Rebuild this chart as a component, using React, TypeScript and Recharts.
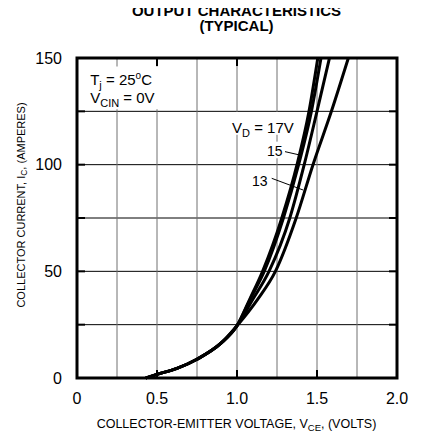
import React from 'react';
import {
  LineChart,
  Line,
  XAxis,
  YAxis,
  CartesianGrid,
  ReferenceArea,
  ReferenceLine,
} from 'recharts';

// ---- axis ticks ----
const xTicks = [0, 0.25, 0.5, 0.75, 1, 1.25, 1.5, 1.75, 2];
const yTicks = [0, 25, 50, 75, 100, 125, 150];
const xMajorTicks = [0.5, 1, 1.5];
const yMajorTicks = [25, 50, 75, 100, 125];

// ---- common low-current part of all curves (VCE volts, IC amperes) ----
const lowVce = [0.43, 0.5, 0.625, 0.75, 0.9, 1.0];
const lowIc = [0, 1.7, 4.5, 8.8, 16.3, 24.5];

// ---- upper part: VCE read at given collector currents ----
const highIc = [37, 50, 75, 100, 125, 150];
const vceVd17 = [1.08, 1.16, 1.28, 1.375, 1.45, 1.505];
const vceVd17b = [1.083, 1.17, 1.29, 1.385, 1.465, 1.525];
const vceVd15 = [1.1, 1.2, 1.33, 1.42, 1.5, 1.578];
const vceVd13 = [1.13, 1.24, 1.37, 1.475, 1.59, 1.696];

const buildCurve = (upper: number[]) =>
  lowVce
    .map((v, k) => ({ v, i: lowIc[k] }))
    .concat(highIc.map((i, k) => ({ v: upper[k], i })));

const curves = [vceVd17, vceVd17b, vceVd15, vceVd13].map(buildCurve);

const FONT = '"Liberation Sans", Arial, Helvetica, sans-serif';

const fmtX = (v: number) => {
  if (Math.abs((v * 2) % 1) > 1e-9) return '';
  return v === 0 ? '0' : v.toFixed(1);
};
const fmtY = (v: number) => (v % 50 === 0 ? String(v) : '');

const TjLabel = (props: any) => {
  const vb = props.viewBox || {};
  const x = vb.x + 10;
  return (
    <g fontFamily={FONT} fill="#000">
      <text x={x} y={vb.y + 18.5} fontSize={15}>
        T<tspan fontSize={11} dy={4}>j</tspan>
        <tspan dy={-4}> = 25</tspan>
        <tspan fontSize={10} dy={-6}>o</tspan>
        <tspan dy={6}>C</tspan>
      </text>
      <text x={x} y={vb.y + 36} fontSize={15}>
        V<tspan fontSize={11} dy={4}>CIN</tspan>
        <tspan dy={-4}> = 0V</tspan>
      </text>
    </g>
  );
};

const VdLabel = (props: any) => {
  const vb = props.viewBox || {};
  return (
    <text x={vb.x + 3} y={vb.y + 21} fontSize={15} fontFamily={FONT} fill="#000">
      V<tspan fontSize={11} dy={4}>D</tspan>
      <tspan dy={-4}> = 17V</tspan>
    </text>
  );
};

const makeNumLabel = (txt: string) => (props: any) => {
  const vb = props.viewBox || {};
  return (
    <text x={vb.x + 2} y={vb.y + vb.height - 2} fontSize={14} fontFamily={FONT} fill="#000">
      {txt}
    </text>
  );
};

export default function App() {
  return (
    <div style={{ position: 'relative', width: 410, height: 426 }}>
      <LineChart
        width={410}
        height={426}
        margin={{ top: 50, right: 21, bottom: 26, left: 9 }}
      >
        <CartesianGrid vertical={false} stroke="#000" strokeWidth={1} />
        <CartesianGrid horizontal={false} stroke="#707070" strokeWidth={1} />
        <XAxis
          dataKey="v"
          type="number"
          domain={[0, 2]}
          ticks={xTicks}
          tickFormatter={fmtX}
          axisLine={false}
          tickLine={false}
          tickSize={0}
          tickMargin={15}
          height={30}
          interval={0}
          tick={{ fill: '#000', fontSize: 16, fontFamily: FONT }}
        />
        <YAxis
          type="number"
          domain={[0, 150]}
          ticks={yTicks}
          tickFormatter={fmtY}
          axisLine={false}
          tickLine={false}
          tickSize={0}
          tickMargin={15}
          width={60}
          interval={0}
          tick={{ fill: '#000', fontSize: 16, fontFamily: FONT }}
        />
        {/* white boxes behind annotations */}
        <ReferenceArea
          x1={0.02}
          x2={0.68}
          y1={126}
          y2={146}
          fill="#fff"
          fillOpacity={1}
          stroke="none"
          label={TjLabel}
        />
        <ReferenceArea
          x1={0.95}
          x2={1.375}
          y1={114}
          y2={124.7}
          fill="#fff"
          fillOpacity={1}
          stroke="none"
          label={VdLabel}
        />
        <ReferenceArea
          x1={1.175}
          x2={1.294}
          y1={103}
          y2={110.8}
          fill="#fff"
          fillOpacity={1}
          stroke="none"
          label={makeNumLabel('15')}
        />
        <ReferenceArea
          x1={1.081}
          x2={1.206}
          y1={89.1}
          y2={96.6}
          fill="#fff"
          fillOpacity={1}
          stroke="none"
          label={makeNumLabel('13')}
        />
        {curves.map((d, k) => (
          <Line
            key={k}
            data={d}
            dataKey="i"
            type="monotone"
            stroke="#000"
            strokeWidth={3}
            dot={false}
            activeDot={false}
            isAnimationActive={false}
          />
        ))}
        {/* leader lines */}
        <ReferenceLine
          segment={[
            { x: 1.3, y: 106.1 },
            { x: 1.394, y: 104.5 },
          ]}
          stroke="#000"
          strokeWidth={1}
        />
        <ReferenceLine
          segment={[
            { x: 1.217, y: 93.6 },
            { x: 1.414, y: 88.1 },
          ]}
          stroke="#000"
          strokeWidth={1}
        />
        {/* inward ticks */}
        {xMajorTicks.map((v) => (
          <ReferenceLine
            key={'xb' + v}
            segment={[
              { x: v, y: 0 },
              { x: v, y: 3.8 },
            ]}
            stroke="#000"
            strokeWidth={2}
          />
        ))}
        {xMajorTicks.map((v) => (
          <ReferenceLine
            key={'xt' + v}
            segment={[
              { x: v, y: 150 },
              { x: v, y: 146.2 },
            ]}
            stroke="#000"
            strokeWidth={2}
          />
        ))}
        {yMajorTicks.map((v) => (
          <ReferenceLine
            key={'yl' + v}
            segment={[
              { x: 0, y: v },
              { x: 0.05, y: v },
            ]}
            stroke="#000"
            strokeWidth={2}
          />
        ))}
        {yMajorTicks.map((v) => (
          <ReferenceLine
            key={'yr' + v}
            segment={[
              { x: 2, y: v },
              { x: 1.95, y: v },
            ]}
            stroke="#000"
            strokeWidth={2}
          />
        ))}
        {/* frame */}
        <ReferenceArea
          x1={0}
          x2={2}
          y1={0}
          y2={150}
          fill="none"
          fillOpacity={0}
          stroke="#000"
          strokeWidth={3}
        />
      </LineChart>
      <svg
        width={410}
        height={434}
        style={{
          position: 'absolute',
          left: 0,
          top: -8,
          pointerEvents: 'none',
        }}
      >
        <g fontFamily={FONT} fill="#000">
          <text x={228.5} y={15.7} fontSize={15} fontWeight="bold" textAnchor="middle">
            OUTPUT CHARACTERISTICS
          </text>
          <text x={228.5} y={31} fontSize={15} fontWeight="bold" textAnchor="middle">
            (TYPICAL)
          </text>
          <text x={228.5} y={428} fontSize={12.5} textAnchor="middle">
            COLLECTOR-EMITTER VOLTAGE, V<tspan fontSize={9.5} dy={3}>CE</tspan>
            <tspan dy={-3}>, (VOLTS)</tspan>
          </text>
          <text
            x={13}
            y={205}
            fontSize={11}
            textAnchor="middle"
            dominantBaseline="central"
            transform="rotate(-90, 13, 205)"
          >
            COLLECTOR CURRENT, I<tspan fontSize={8.5} dy={3}>C</tspan>
            <tspan dy={-3}>, (AMPERES)</tspan>
          </text>
        </g>
      </svg>
    </div>
  );
}
